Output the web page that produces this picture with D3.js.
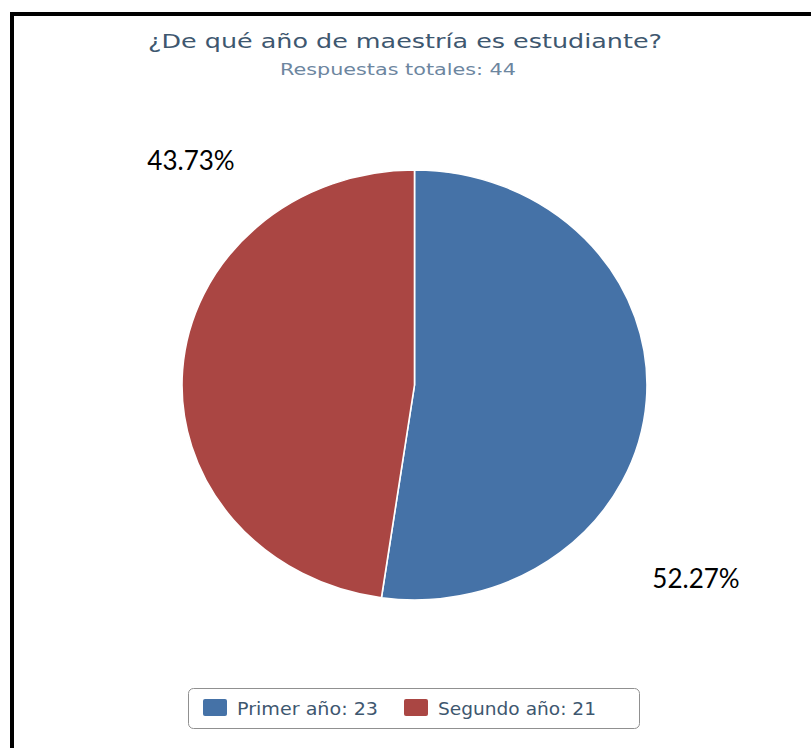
<!DOCTYPE html>
<html>
<head>
<meta charset="utf-8">
<script src="https://cdn.jsdelivr.net/npm/d3@7"></script>
<style>
  html, body { margin: 0; padding: 0; background: #fff; }
  svg { display: block; }
</style>
</head>
<body>
<svg id="chart" width="811" height="748"></svg>
<script>
// Survey answers: which year of the master's programme the respondent is in
const categories = ["Primer año", "Segundo año"];
const counts = [23, 21];
const pctLabels = ["52.27%", "43.73%"];
const colors = ["#4572A7", "#AA4643"];
const title = "¿De qué año de maestría es estudiante?";
const subtitle = "Respuestas totales: 44";

const svg = d3.select("#chart");
const W = 811, H = 748;

// outer frame
svg.append("rect")
  .attr("x", 12).attr("y", 14)
  .attr("width", W + 20).attr("height", H + 20)
  .attr("fill", "none").attr("stroke", "#000").attr("stroke-width", 4);

// titles (wide face, stretched to the set width)
svg.append("text")
  .attr("x", 148).attr("y", 48)
  .attr("textLength", 514)
  .attr("lengthAdjust", "spacingAndGlyphs")
  .attr("font-family", "DejaVu Sans, sans-serif")
  .attr("font-size", 20)
  .attr("fill", "#3E576F")
  .text(title);
svg.append("text")
  .attr("x", 280).attr("y", 75)
  .attr("textLength", 236)
  .attr("lengthAdjust", "spacingAndGlyphs")
  .attr("font-family", "DejaVu Sans, sans-serif")
  .attr("font-size", 15)
  .attr("fill", "#6D869F")
  .text(subtitle);

// pie (slightly wider than tall)
const cx = 414.5, cy = 385, ry = 215, rx = 232.5;
const pie = d3.pie().sort(null).value(d => d);
const arc = d3.arc().innerRadius(0).outerRadius(ry);
const arcs = pie(counts);

const g = svg.append("g")
  .attr("transform", `translate(${cx},${cy}) scale(${rx / ry},1)`);
g.selectAll("path")
  .data(arcs)
  .join("path")
  .attr("d", arc)
  .attr("fill", (d, i) => colors[i])
  .attr("stroke", "#fff")
  .attr("stroke-width", 1.5)
  .attr("stroke-linejoin", "round");

// percentage labels
const labelPos = [[696, 588], [191, 170]];
svg.selectAll("text.pct")
  .data(pctLabels)
  .join("text")
  .attr("class", "pct")
  .attr("x", (d, i) => labelPos[i][0])
  .attr("y", (d, i) => labelPos[i][1])
  .attr("text-anchor", "middle")
  .attr("font-family", "Lato, Carlito, sans-serif")
  .attr("font-size", 26)
  .attr("fill", "#000")
  .text(d => d);

// legend
const legend = svg.append("g");
legend.append("rect")
  .attr("x", 188.5).attr("y", 688.5)
  .attr("width", 451).attr("height", 40)
  .attr("rx", 5)
  .attr("fill", "#fff").attr("stroke", "#909090").attr("stroke-width", 1);
const itemX = [203, 404];
const itemW = [141, 158];
categories.forEach((c, i) => {
  legend.append("rect")
    .attr("x", itemX[i]).attr("y", 699)
    .attr("width", 24).attr("height", 17)
    .attr("rx", 2)
    .attr("fill", colors[i]);
  legend.append("text")
    .attr("x", itemX[i] + 34).attr("y", 715)
    .attr("textLength", itemW[i])
    .attr("lengthAdjust", "spacingAndGlyphs")
    .attr("font-family", "DejaVu Sans, sans-serif")
    .attr("font-size", 17)
    .attr("fill", "#3E576F")
    .text(`${c}: ${counts[i]}`);
});
</script>
</body>
</html>
